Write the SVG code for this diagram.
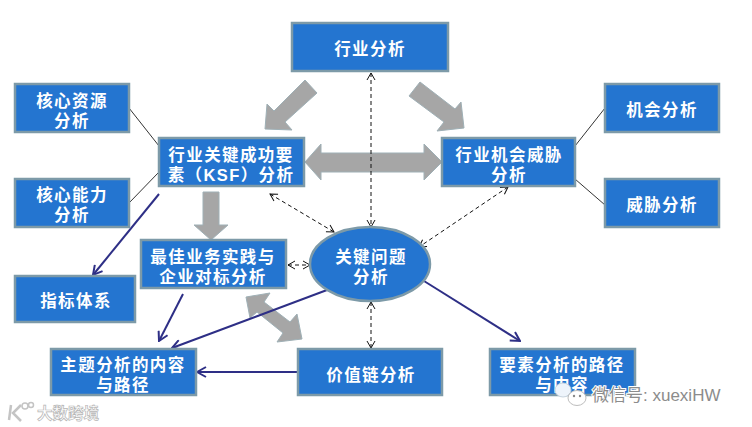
<svg xmlns="http://www.w3.org/2000/svg" width="752" height="427" viewBox="0 0 752 427">
<defs>
<style>
.b{fill:#2475d0;stroke:#7d9aa8;stroke-width:2.5}
.t{font-family:"Liberation Sans","Noto Sans CJK SC",sans-serif;font-size:16.5px;font-weight:700;letter-spacing:1.4px;fill:#fff;text-anchor:middle}
.g{fill:#a6a6a6;stroke:#9fb0b6;stroke-width:1}
.k{stroke:#333;stroke-width:1;fill:none}
.n{stroke:#2e2f86;stroke-width:2;fill:none;marker-end:url(#na)}
.d{stroke:#111;stroke-width:1;stroke-dasharray:4 3;fill:none;marker-start:url(#da);marker-end:url(#da)}
.w{font-family:"Liberation Sans","Noto Sans CJK SC",sans-serif}
</style>
<marker id="na" viewBox="0 0 12 12" refX="11" refY="6" markerWidth="12" markerHeight="12" markerUnits="userSpaceOnUse" orient="auto"><path d="M2 1L11 6L2 11" fill="none" stroke="#2e2f86" stroke-width="2"/></marker>
<marker id="da" viewBox="0 0 10 10" refX="9" refY="5" markerWidth="10" markerHeight="10" markerUnits="userSpaceOnUse" orient="auto-start-reverse"><path d="M2 1L9 5L2 9" fill="none" stroke="#111" stroke-width="1"/></marker>
</defs>
<rect width="752" height="427" fill="#fff"/>
<g id="connectors">
<polygon class="g" points="305,80 317,93 285,122 292,130 265,129 267,104 274,111"/>
<polygon class="g" points="420,82 455,109 461,102 464,128 437,131 444,122 409,96"/>
<polygon class="g" points="305,162 321,144 321,153 424,153 424,144 442,162 424,180 424,172 321,172 321,180"/>
<polygon class="g" points="203,192 219,192 219,225 228,225 211,240 194,225 203,225"/>
<polygon class="g" points="246,297 270,293 264,302 290,322 297,314 302,339 277,342 283,333 257,312 250,318"/>
<path class="k" d="M129 108L159 146M129 203L159 172M575 146L605 108M575 179L605 205"/>
<path class="n" d="M159 194L93 275"/>
<path class="n" d="M183 294L159 341"/>
<path class="n" d="M327 290L172 348"/>
<path class="n" d="M298 372L197 372"/>
<path class="n" d="M424 281L520 341"/>
<path class="d" d="M371 73L371 227"/>
<path class="d" d="M270 194L334 232"/>
<path class="d" d="M288 265L310 265"/>
<path class="d" d="M371 302L371 348"/>
<path class="d" d="M508 187L419 247"/>
</g>
<g id="n-industry"><rect class="b" x="292" y="23" width="156" height="48"/><text class="t" x="370" y="54.500">行业分析</text></g>
<g id="n-resource"><rect class="b" x="15" y="84" width="114" height="48"/><text class="t"><tspan x="72" y="106.500">核心资源</tspan><tspan x="72" y="126.500">分析</tspan></text></g>
<g id="n-capability"><rect class="b" x="15" y="179" width="114" height="48"/><text class="t"><tspan x="72" y="200.500">核心能力</tspan><tspan x="72" y="220.500">分析</tspan></text></g>
<g id="n-ksf"><rect class="b" x="159" y="138" width="145" height="48"/><text class="t"><tspan x="231" y="160.500">行业关键成功要</tspan><tspan x="231" y="180.500">素（KSF）分析</tspan></text></g>
<g id="n-opportunity"><rect class="b" x="442" y="138" width="133" height="48"/><text class="t"><tspan x="509" y="160.500">行业机会威胁</tspan><tspan x="509" y="180.500">分析</tspan></text></g>
<g id="n-chance"><rect class="b" x="605" y="84" width="114" height="48"/><text class="t" x="662" y="116">机会分析</text></g>
<g id="n-threat"><rect class="b" x="605" y="179" width="114" height="48"/><text class="t" x="662" y="211">威胁分析</text></g>
<g id="n-best"><rect class="b" x="141" y="240" width="145" height="48"/><text class="t"><tspan x="213" y="262.500">最佳业务实践与</tspan><tspan x="213" y="282.500">企业对标分析</tspan></text></g>
<g id="n-metrics"><rect class="b" x="15" y="276" width="120" height="46"/><text class="t" x="76" y="307">指标体系</text></g>
<g id="n-key"><ellipse class="b" cx="370" cy="264" rx="60" ry="37"/><text class="t"><tspan x="371" y="262.500">关键问题</tspan><tspan x="371" y="282.500">分析</tspan></text></g>
<g id="n-theme"><rect class="b" x="51" y="349" width="145" height="46"/><text class="t"><tspan x="123" y="370.500">主题分析的内容</tspan><tspan x="123" y="390.500">与路径</tspan></text></g>
<g id="n-value"><rect class="b" x="298" y="349" width="144" height="46"/><text class="t" x="371" y="380.500">价值链分析</text></g>
<g id="n-element"><rect class="b" x="490" y="349" width="145" height="46"/><text class="t"><tspan x="562" y="370.500">要素分析的路径</tspan><tspan x="562" y="390.500">与内容</tspan></text></g>
<g id="watermarks">
<path d="M11 405L9 420M21 405L13 413L21 421" fill="none" stroke="#c4c4c4" stroke-width="2.500"/>
<circle cx="25" cy="406" r="3" fill="none" stroke="#c4c4c4" stroke-width="1.500"/>
<circle cx="31" cy="405" r="2.500" fill="none" stroke="#c4c4c4" stroke-width="1.500"/>
<text class="w" x="37" y="419" font-size="15.500" font-weight="700" fill="#fff" stroke="#b5b5b5" stroke-width=".7">大数跨境</text>
<ellipse cx="563" cy="390" rx="8" ry="7" fill="#eef4fb" stroke="#c8d4de"/>
<ellipse cx="577" cy="398" rx="9" ry="7.500" fill="#fff" stroke="#bdbdbd"/>
<circle cx="574" cy="396" r="1.200" fill="#888"/><circle cx="580" cy="396" r="1.200" fill="#888"/>
<text class="w" x="592" y="401" font-size="17" fill="#8c8c8c" stroke="#fff" stroke-width="2" paint-order="stroke">微信号: xuexiHW</text>
</g>
</svg>
